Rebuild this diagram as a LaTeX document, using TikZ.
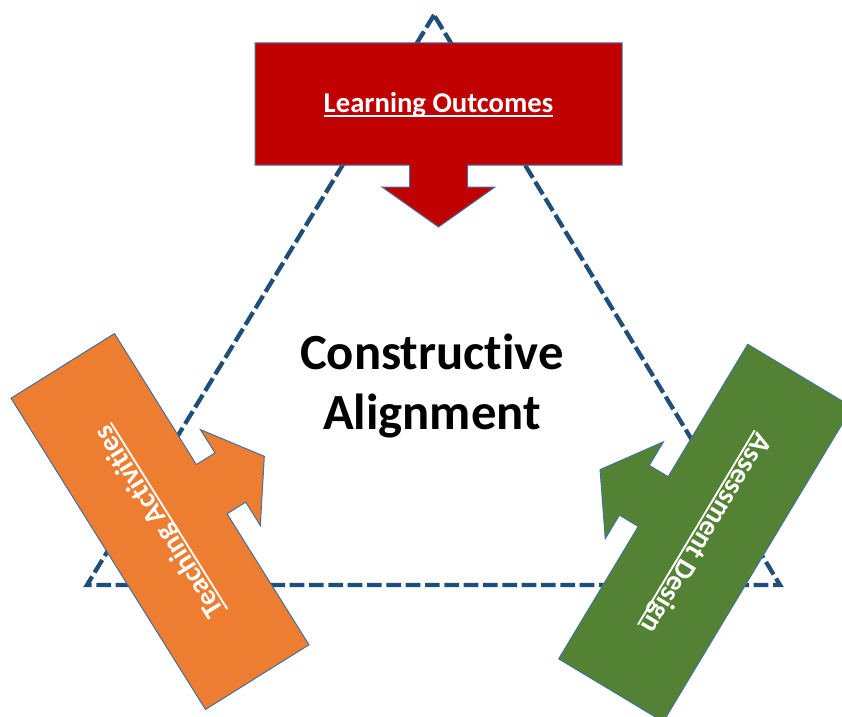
\documentclass[tikz,border=0pt]{standalone}
\usepackage{fontspec}
\setmainfont{Carlito}[Ligatures=NoCommon]
\usepackage{tikz}
\usetikzlibrary{arrows.meta}
\usepackage{xcolor}

\definecolor{lofill}{RGB}{192,0,0}
\definecolor{tafill}{RGB}{237,125,49}
\definecolor{adfill}{RGB}{84,130,53}
\definecolor{edgeblue}{RGB}{65,113,156}
\definecolor{tridash}{RGB}{31,78,121}

% box with a short arrow on its lower long side, centred on the origin
\newcommand{\calloutpath}{(-183.5,-61) -- (183.5,-61) -- (183.5,61) -- (29,61) -- (29,83) -- (56.5,83) -- (0,123) -- (-56.5,83) -- (-29,83) -- (-29,61) -- (-183.5,61) -- cycle}
% white label with a thick underline
\newcommand{\underlabel}[1]{\setbox0\hbox{#1}\rlap{\rule[-3pt]{\wd0}{1.4pt}}\box0}

\tikzset{
  callout/.style={draw=edgeblue, line width=0.75pt, line join=miter},
  calloutlabel/.style={font=\bfseries\fontsize{21.5}{25}\selectfont, text=white, inner sep=0.75pt},
  triangle/.style={draw=tridash, line width=3.2pt, dash pattern=on 11pt off 3.5pt},
}

\begin{document}
\begin{tikzpicture}[x=0.75pt,y=0.75pt,yscale=-1,xscale=1]
\useasboundingbox (0,0) rectangle (842,717);
\clip (0,0) rectangle (842,717);

%Shape: Triangle [dashed]
\coordinate (apex) at (434,15);
\coordinate (left) at (87,585);
\coordinate (right) at (780,585);
\draw [triangle] (apex) -- (left) -- (right) -- cycle;

%Shape: Callout [Learning Outcomes]
\draw [callout, fill=lofill, shift={(438.5,104)}] \calloutpath;
%Shape: Callout [Teaching Activities]
\draw [callout, fill=tafill, shift={(160,521.5)}, rotate=-122] \calloutpath;
%Shape: Callout [Assessment Design]
\draw [callout, fill=adfill, shift={(705.5,533)}, rotate=121] \calloutpath;

% Text Node
\node [calloutlabel] (lo) at (438.5,105) {\underlabel{Learning Outcomes}};
% Text Node
\node [calloutlabel, rotate=122] (ta) at (160,521.5) {\underlabel{Teaching Activities}};
% Text Node
\node [calloutlabel, rotate=-121] (ad) at (705.5,533) {\underlabel{Assessment Design}};
% Text Node
\node [font=\bfseries\fontsize{38}{45}\selectfont, align=center, inner sep=0.75pt] (ca) at (432,386) {Constructive\\Alignment};

\end{tikzpicture}
\end{document}
